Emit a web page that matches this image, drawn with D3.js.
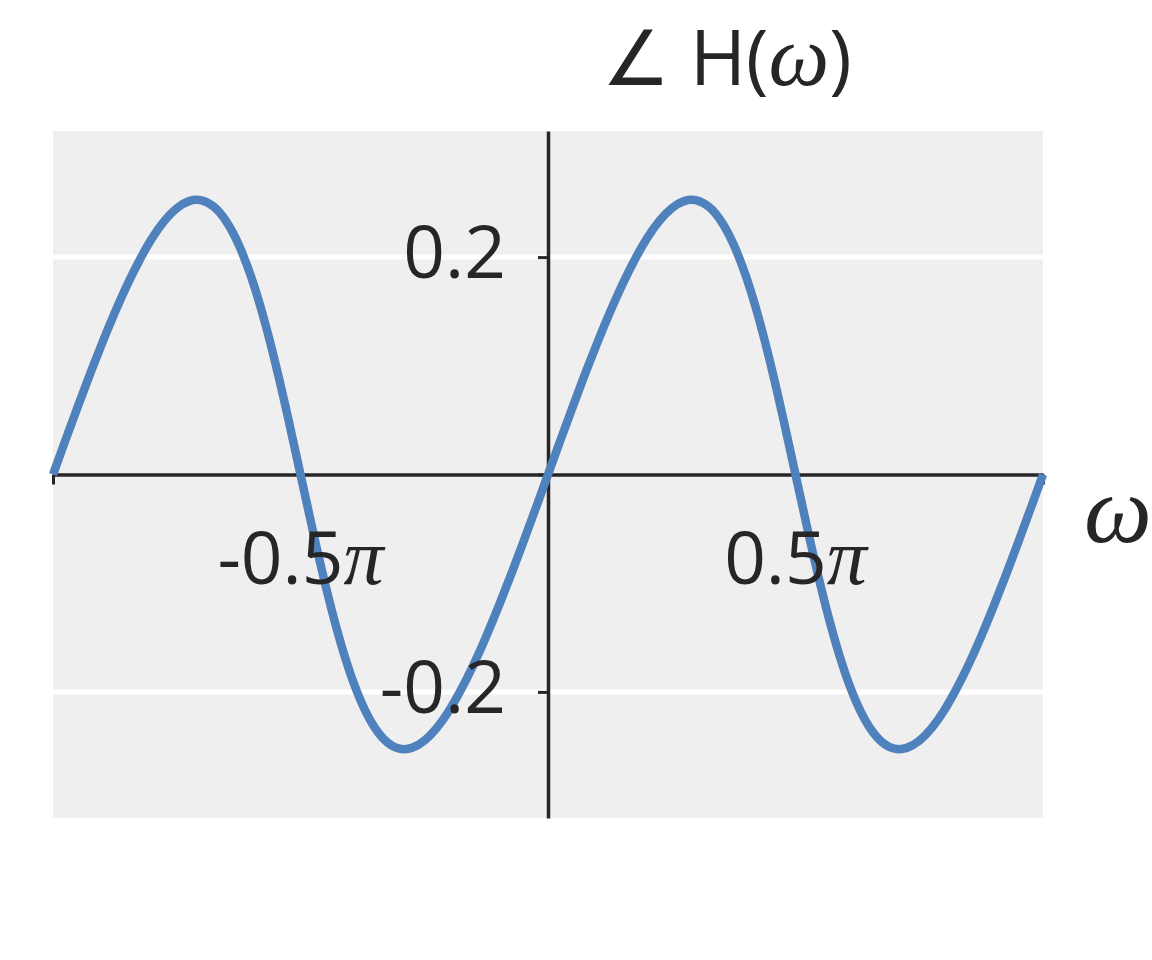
<!DOCTYPE html>
<html>
<head>
<meta charset="utf-8">
<script src="https://cdn.jsdelivr.net/npm/d3@7"></script>
<style>
  body { margin: 0; background: #fff; }
  svg text { fill: #262626; }
</style>
</head>
<body>
<script>
// frequency samples, in units of pi
const omega = [
  -1.000, -0.975, -0.950, -0.925, -0.900, -0.875, -0.850, -0.825, -0.800, -0.775,
  -0.750, -0.725, -0.700, -0.675, -0.650, -0.625, -0.600, -0.575, -0.550, -0.525,
  -0.500, -0.475, -0.450, -0.425, -0.400, -0.375, -0.350, -0.325, -0.300, -0.275,
  -0.250, -0.225, -0.200, -0.175, -0.150, -0.125, -0.100, -0.075, -0.050, -0.025,
   0.000,  0.025,  0.050,  0.075,  0.100,  0.125,  0.150,  0.175,  0.200,  0.225,
   0.250,  0.275,  0.300,  0.325,  0.350,  0.375,  0.400,  0.425,  0.450,  0.475,
   0.500,  0.525,  0.550,  0.575,  0.600,  0.625,  0.650,  0.675,  0.700,  0.725,
   0.750,  0.775,  0.800,  0.825,  0.850,  0.875,  0.900,  0.925,  0.950,  0.975,
   1.000
];
// phase (radians)
const phase = [
   0.0000,  0.0314,  0.0623,  0.0926,  0.1216,  0.1491,  0.1746,  0.1974,  0.2173,  0.2333,
   0.2450,  0.2515,  0.2522,  0.2462,  0.2328,  0.2115,  0.1822,  0.1450,  0.1010,  0.0519,
   0.0000, -0.0519, -0.1010, -0.1450, -0.1822, -0.2115, -0.2328, -0.2462, -0.2522, -0.2515,
  -0.2450, -0.2333, -0.2173, -0.1974, -0.1746, -0.1491, -0.1216, -0.0926, -0.0623, -0.0314,
   0.0000,  0.0314,  0.0623,  0.0926,  0.1216,  0.1491,  0.1746,  0.1974,  0.2173,  0.2333,
   0.2450,  0.2515,  0.2522,  0.2462,  0.2328,  0.2115,  0.1822,  0.1450,  0.1010,  0.0519,
   0.0000, -0.0519, -0.1010, -0.1450, -0.1822, -0.2115, -0.2328, -0.2462, -0.2522, -0.2515,
  -0.2450, -0.2333, -0.2173, -0.1974, -0.1746, -0.1491, -0.1216, -0.0926, -0.0623, -0.0314,
   0.0000
];
const xTicks = [-1, -0.5, 0, 0.5, 1];
const xTickLabels = ['', '-0.5', '', '0.5', ''];
const yTicks = [-0.2, 0, 0.2];
const yTickLabels = ['-0.2', '', '0.2'];

const w = 1152, h = 960;
const sans = '"Open Sans", "Noto Sans", sans-serif';
const serif = '"Liberation Serif", "DejaVu Serif", serif';

const svg = d3.select('body').append('svg').attr('width', w).attr('height', h);

const x = d3.scaleLinear().domain([-Math.PI, Math.PI]).range([53, 1043]);
const y = d3.scaleLinear().domain([-0.316, 0.316]).range([818, 131]);

// plot background
svg.append('rect')
    .attr('x', x.range()[0]).attr('y', y.range()[1])
    .attr('width', x.range()[1] - x.range()[0])
    .attr('height', y.range()[0] - y.range()[1])
    .attr('fill', '#efefef');

// horizontal grid
svg.append('g')
    .selectAll('line')
    .data([-0.2, 0.2])
    .enter()
    .append('line')
    .attr('x1', x.range()[0]).attr('x2', x.range()[1])
    .attr('y1', d => y(d)).attr('y2', d => y(d))
    .attr('stroke', '#fff')
    .attr('stroke-width', 5);

// axes through the origin
const xAxis = d3.axisBottom(x)
    .tickValues(xTicks.map(v => v * Math.PI))
    .tickFormat('')
    .tickSize(10)
    .tickSizeOuter(0);
const gx = svg.append('g')
    .attr('transform', `translate(0, ${y(0)})`)
    .call(xAxis);
const yAxis = d3.axisLeft(y)
    .tickValues(yTicks)
    .tickFormat('')
    .tickSize(10)
    .tickSizeOuter(0);
const gy = svg.append('g')
    .attr('transform', `translate(${x(0)}, 0)`)
    .call(yAxis);
[gx, gy].forEach(g => {
    g.select('.domain').attr('stroke', '#262626').attr('stroke-width', 3.5);
    g.selectAll('.tick line').attr('stroke', '#262626').attr('stroke-width', 3);
    g.selectAll('.tick text').remove();
});

// curve
const pts = omega.map((o, i) => [o * Math.PI, phase[i]]);
svg.append('path')
    .datum(pts)
    .attr('fill', 'none')
    .attr('stroke', '#4f81bd')
    .attr('stroke-width', 8.5)
    .attr('stroke-linejoin', 'round')
    .attr('d', d3.line().x(d => x(d[0])).y(d => y(d[1])).curve(d3.curveNatural));

// x tick labels
const xl = svg.append('g')
    .selectAll('text')
    .data(xTicks.map((v, i) => ({ v, s: xTickLabels[i] })).filter(d => d.s))
    .enter()
    .append('text')
    .attr('x', d => x(d.v * Math.PI))
    .attr('y', y(0) + 109)
    .attr('text-anchor', 'middle')
    .style('font-family', sans)
    .style('font-size', '73px');
xl.append('tspan').text(d => d.s);
xl.append('tspan').style('font-family', serif).style('font-style', 'italic').style('font-size', '80px').text('\u03c0');

// y tick labels
svg.append('g')
    .selectAll('text')
    .data(yTicks.map((v, i) => ({ v, s: yTickLabels[i] })).filter(d => d.s))
    .enter()
    .append('text')
    .attr('x', x(0) - 42)
    .attr('y', d => y(d.v) + 21)
    .attr('text-anchor', 'end')
    .style('font-family', sans)
    .style('font-size', '73px')
    .text(d => d.s);

// axis label
svg.append('text')
    .attr('x', 1118)
    .attr('y', y(0) + 67)
    .attr('text-anchor', 'middle')
    .style('font-family', serif)
    .style('font-style', 'italic')
    .style('font-size', '96px')
    .text('\u03c9');

// title
const t = svg.append('text')
    .attr('x', 727)
    .attr('y', 85)
    .attr('text-anchor', 'middle')
    .style('font-family', sans)
    .style('font-size', '76px');
t.append('tspan').text('\u2220 H(');
t.append('tspan').style('font-family', serif).style('font-style', 'italic').style('font-size', '86px').text('\u03c9');
t.append('tspan').text(')');
</script>
</body>
</html>
